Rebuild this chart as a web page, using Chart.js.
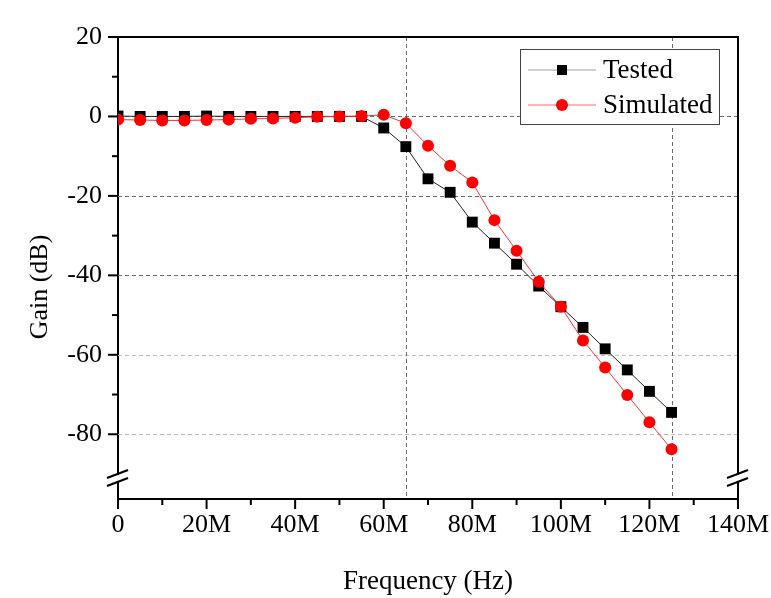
<!DOCTYPE html>
<html>
<head>
<meta charset="utf-8">
<script src="https://cdn.jsdelivr.net/npm/chart.js@4/dist/chart.umd.min.js"></script>
<style>
  html, body { margin: 0; padding: 0; background: #fff; }
  #wrap { width: 771px; height: 598px; }
</style>
</head>
<body>
<div id="wrap"><canvas id="gain" width="771" height="598"></canvas></div>
<script>
// Frequency sweep (MHz) and measured / simulated gain (dB)
const freqMHz = [0, 5, 10, 15, 20, 25, 30, 35, 40, 45, 50, 55, 60, 65, 70, 75, 80, 85, 90, 95, 100, 105, 110, 115, 120, 125];
const testedGain = [0.1, 0, 0, 0, 0.1, 0, 0, 0, 0, 0, 0, 0, -2.9, -7.6, -15.7, -19.1, -26.6, -31.9, -37.2, -42.7, -47.9, -53.1, -58.5, -63.8, -69.2, -74.5];
const simulatedGain = [-0.8, -0.9, -1.0, -1.0, -0.9, -0.8, -0.6, -0.5, -0.3, -0.1, 0, 0.1, 0.4, -1.7, -7.4, -12.4, -16.6, -26.1, -33.8, -41.6, -47.9, -56.4, -63.2, -70.1, -77.0, -83.8];

// axis ticks
const xTicks = [0, 10, 20, 30, 40, 50, 60, 70, 80, 90, 100, 110, 120, 130, 140];
const yTicks = [20, 10, 0, -10, -20, -30, -40, -50, -60, -70, -80];
const hGrid = [0, -20, -40, -60, -80];
const vGrid = [65, 125];
const yBreak = -91;

const FONT = "'Liberation Serif', 'Times New Roman', serif";

const toPoints = ys => freqMHz.map((f, i) => ({ x: f, y: ys[i] }));

// frame, minor ticks, dashed guides, axis breaks, y title and legend
const decorations = {
  id: 'decorations',
  beforeDatasetsDraw(chart) {
    const { ctx, chartArea: a, scales: { x, y } } = chart;
    ctx.save();
    ctx.lineWidth = 1;
    ctx.setLineDash([4, 3]);
    hGrid.forEach(v => {
      const py = Math.round(y.getPixelForValue(v)) + 0.5;
      ctx.strokeStyle = v < -50 ? '#bdbdbd' : '#6a6a6a';
      ctx.beginPath(); ctx.moveTo(a.left, py); ctx.lineTo(a.right, py); ctx.stroke();
    });
    ctx.strokeStyle = '#6a6a6a';
    vGrid.forEach(v => {
      const px = Math.round(x.getPixelForValue(v)) + 0.5;
      ctx.beginPath(); ctx.moveTo(px, a.top); ctx.lineTo(px, a.bottom); ctx.stroke();
    });
    ctx.restore();
  },
  afterDraw(chart) {
    const { ctx, chartArea: a, scales: { x, y } } = chart;
    ctx.save();
    ctx.strokeStyle = '#000';
    ctx.lineWidth = 2;
    ctx.lineCap = 'butt';

    // top and right frame
    ctx.beginPath();
    ctx.moveTo(a.left, a.top); ctx.lineTo(a.right, a.top); ctx.lineTo(a.right, a.bottom + 10);
    ctx.stroke();

    // tick marks, long on labelled values
    xTicks.forEach(v => {
      const px = x.getPixelForValue(v);
      const len = v % 20 === 0 ? 10 : 6;
      ctx.beginPath(); ctx.moveTo(px, a.bottom); ctx.lineTo(px, a.bottom + len); ctx.stroke();
    });
    yTicks.forEach(v => {
      const py = y.getPixelForValue(v);
      const len = v % 20 === 0 ? 10 : 6;
      ctx.beginPath(); ctx.moveTo(a.left, py); ctx.lineTo(a.left - len, py); ctx.stroke();
    });

    // axis breaks on both vertical axes
    const pb = y.getPixelForValue(yBreak);
    [a.left, a.right].forEach(px => {
      ctx.fillStyle = '#fff';
      ctx.fillRect(px - 3, pb - 3, 6, 6);
      ctx.lineWidth = 2;
      [-4, 4].forEach(off => {
        ctx.beginPath();
        ctx.moveTo(px - 11, pb + off + 4);
        ctx.lineTo(px + 10, pb + off - 4);
        ctx.stroke();
      });
    });

    // y axis title
    ctx.fillStyle = '#000';
    ctx.font = '26px ' + FONT;
    ctx.textAlign = 'center';
    ctx.textBaseline = 'middle';
    ctx.translate(40, 287);
    ctx.rotate(-Math.PI / 2);
    ctx.fillText('Gain (dB)', 0, 0);
    ctx.setTransform(1, 0, 0, 1, 0, 0);

    // legend box
    const lx = 520, ly = 49, lw = 199, lh = 75;
    ctx.lineWidth = 1;
    ctx.strokeStyle = '#444';
    ctx.fillStyle = '#fff';
    ctx.fillRect(lx, ly, lw, lh);
    ctx.strokeRect(lx + 0.5, ly + 0.5, lw, lh);
    const rows = [
      { label: 'Tested', line: '#a0a0a0', ds: chart.data.datasets[0], cy: ly + 21 },
      { label: 'Simulated', line: '#ff6a6a', ds: chart.data.datasets[1], cy: ly + 56 }
    ];
    ctx.textAlign = 'left';
    rows.forEach(r => {
      ctx.strokeStyle = r.line;
      ctx.lineWidth = 1;
      ctx.beginPath(); ctx.moveTo(lx + 8, r.cy); ctx.lineTo(lx + 76, r.cy); ctx.stroke();
      ctx.fillStyle = r.ds.pointBackgroundColor;
      if (r.ds.pointStyle === 'rect') {
        ctx.fillRect(lx + 37, r.cy - 5, 10, 10);
      } else {
        ctx.beginPath(); ctx.arc(lx + 42, r.cy, 6, 0, Math.PI * 2); ctx.fill();
      }
      ctx.fillStyle = '#000';
      ctx.font = '27px ' + FONT;
      ctx.fillText(r.label, lx + 83, r.cy + 1);
    });
    ctx.restore();
  }
};

new Chart(document.getElementById('gain'), {
  type: 'line',
  data: {
    datasets: [
      {
        label: 'Tested',
        data: toPoints(testedGain),
        borderColor: '#222',
        borderWidth: 1,
        pointStyle: 'rect',
        pointRadius: 7.7,
        pointBackgroundColor: '#000',
        pointBorderWidth: 0,
        order: 1
      },
      {
        label: 'Simulated',
        data: toPoints(simulatedGain),
        borderColor: '#ff3030',
        borderWidth: 1,
        pointStyle: 'circle',
        pointRadius: 6,
        pointBackgroundColor: '#ff0000',
        pointBorderWidth: 0,
        order: 0
      }
    ]
  },
  options: {
    responsive: false,
    animation: false,
    layout: { padding: { top: 37, right: 33, left: 0, bottom: 0 } },
    plugins: { legend: { display: false }, tooltip: { enabled: false } },
    scales: {
      x: {
        type: 'linear',
        min: 0,
        max: 140,
        afterFit: s => { s.height = 99; s.paddingLeft = 0; s.paddingRight = 0; },
        afterBuildTicks: s => { s.ticks = xTicks.map(v => ({ value: v })); },
        grid: { display: false },
        border: { color: '#000', width: 2 },
        ticks: {
          color: '#000',
          padding: 3,
          maxRotation: 0,
          autoSkip: false,
          font: { family: FONT, size: 26 },
          callback: v => v % 20 !== 0 ? '' : (v === 0 ? '0' : v + 'M')
        },
        title: {
          display: true,
          text: 'Frequency (Hz)',
          color: '#000',
          font: { family: FONT, size: 27 },
          padding: { top: 4, bottom: 0 }
        }
      },
      y: {
        min: -96.3,
        max: 20,
        afterFit: s => { s.width = 118; s.paddingTop = 0; s.paddingBottom = 0; },
        afterBuildTicks: s => { s.ticks = yTicks.map(v => ({ value: v })); },
        grid: { display: false },
        border: { color: '#000', width: 2 },
        ticks: {
          color: '#000',
          padding: 8,
          autoSkip: false,
          font: { family: FONT, size: 26 },
          callback: v => v % 20 !== 0 ? '' : String(v)
        }
      }
    }
  },
  plugins: [decorations]
});
</script>
</body>
</html>
